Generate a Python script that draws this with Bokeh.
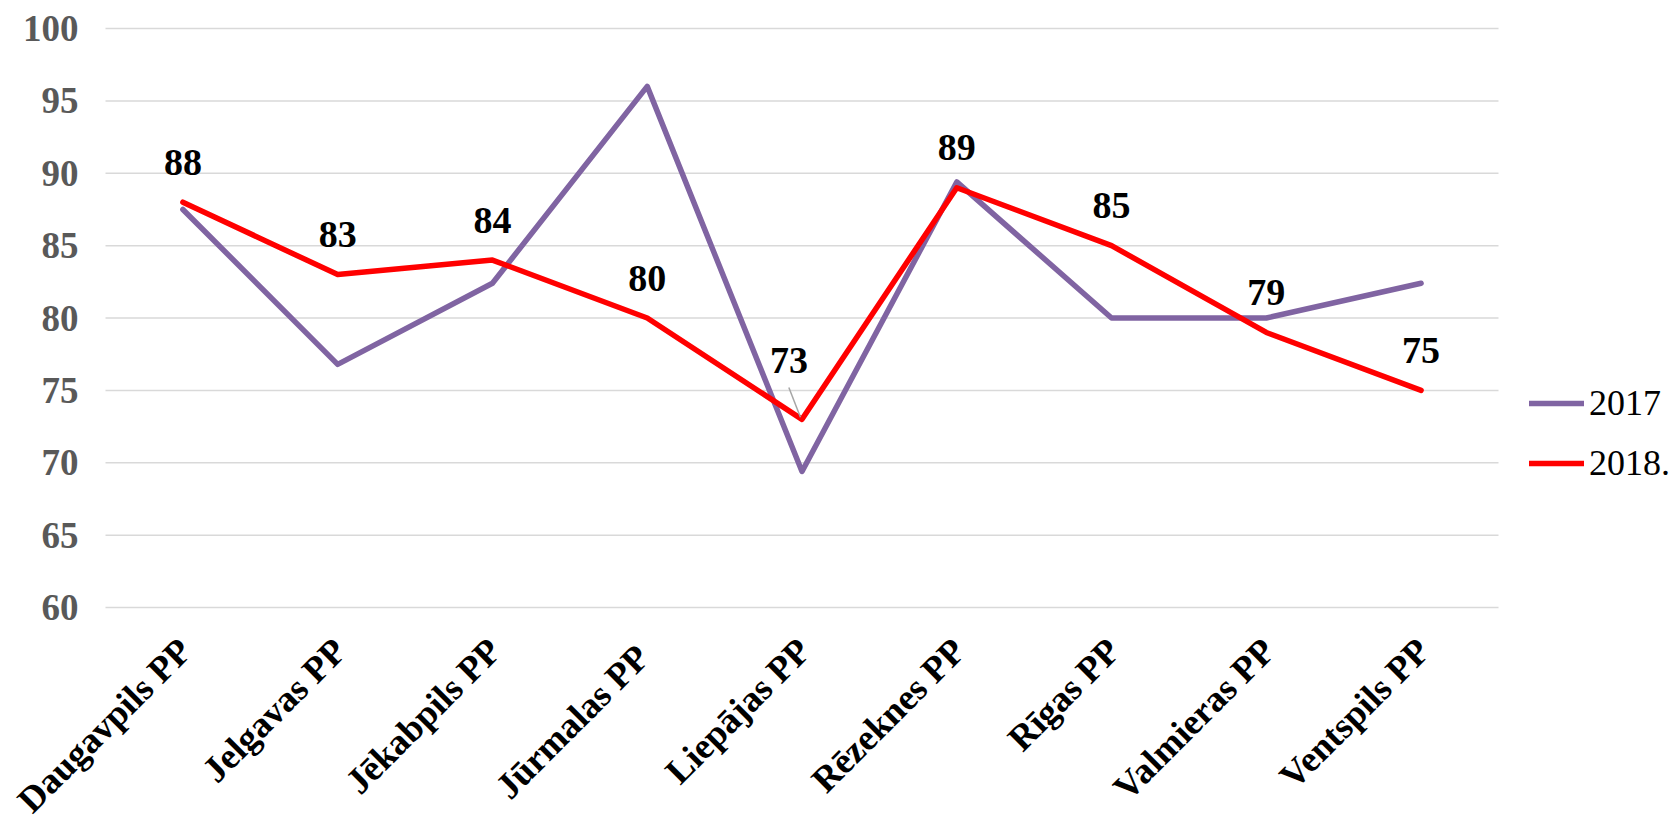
import math
from bokeh.plotting import figure
from bokeh.models import (ColumnDataSource, Range1d, Legend, LegendItem, LabelSet)
from bokeh.embed import file_html
from bokeh.resources import INLINE

categories = ["Daugavpils PP", "Jelgavas PP", "Jēkabpils PP", "Jūrmalas  PP", "Liepājas PP",
              "Rēzeknes PP", "Rīgas PP", "Valmieras PP", "Ventspils PP"]
values_2017 = [87.5, 76.8, 82.4, 96.0, 69.4, 89.4, 80.0, 80.0, 82.4]
values_2018 = [88, 83, 84, 80, 73, 89, 85, 79, 75]
series_names = ["2017", "2018."]
y_ticks = [60, 65, 70, 75, 80, 85, 90, 95, 100]
y_min, y_max = 60, 100

FONT = "Liberation Serif"
PURPLE = "#8064a2"
RED = "#ff0000"

# page / plot-area geometry (pixels)
W, H = 1674, 815
LEFT, TOP = 105, 28          # top-left corner of the 60..100 plotting band
PLOT_W, PLOT_H = 1393, 579

n = len(categories)
xs = list(range(n))           # category slots
pxu_x = PLOT_W / n
pxu_y = PLOT_H / (y_max - y_min)
x_start = -0.5 - LEFT / pxu_x
x_end = x_start + W / pxu_x
y_end = y_max + TOP / pxu_y
y_start = y_end - H / pxu_y

p = figure(x_range=Range1d(x_start, x_end), y_range=Range1d(y_start, y_end),
           frame_width=W, frame_height=H, output_backend="svg", toolbar_location=None,
           min_border=0)
p.outline_line_color = None
p.background_fill_color = "white"
p.border_fill_color = "white"
p.xaxis.visible = False
p.yaxis.visible = False
p.grid.visible = False

# horizontal gridlines across the category band
p.segment(x0=[-0.5] * len(y_ticks), x1=[n - 0.5] * len(y_ticks), y0=y_ticks, y1=y_ticks,
          line_color="#d9d9d9", line_width=1.5)

# y tick labels
ytl_src = ColumnDataSource(dict(x=[-0.5] * len(y_ticks), y=y_ticks, t=[str(v) for v in y_ticks]))
p.add_layout(LabelSet(x="x", y="y", text="t", source=ytl_src, x_offset=-27,
                      text_font=FONT, text_font_style="bold", text_font_size="37px",
                      text_color="#595959", text_align="right", text_baseline="middle"))

# lines
r17 = p.line(xs, values_2017, line_color=PURPLE, line_width=5.5, line_cap="round", line_join="round")
r18 = p.line(xs, values_2018, line_color=RED, line_width=5.5, line_cap="round", line_join="round")

# data labels for 2018
x_offs = [0 if c != "Liepājas PP" else -13 for c in categories]
y_offs = [40 if c != "Liepājas PP" else 59 for c in categories]
lab_src = ColumnDataSource(dict(x=xs, y=values_2018, t=[str(v) for v in values_2018],
                                xo=x_offs, yo=y_offs))
p.add_layout(LabelSet(x="x", y="y", text="t", source=lab_src, x_offset="xo", y_offset="yo",
                      text_font=FONT, text_font_style="bold", text_font_size="38px",
                      text_color="black", text_align="center", text_baseline="middle"))

# leader line for Liepājas label
li = categories.index("Liepājas PP")
p.segment(x0=[xs[li] - 0.01], y0=[values_2018[li] + 0.15],
          x1=[xs[li] - 0.085], y1=[values_2018[li] + 2.2],
          line_color="#a6a6a6", line_width=1.5)

# rotated category labels under the 60 line
cat_src = ColumnDataSource(dict(x=xs, y=[y_min] * n, t=categories))
p.add_layout(LabelSet(x="x", y="y", text="t", source=cat_src, x_offset=2, y_offset=-37,
                      angle=math.pi / 4, text_font=FONT, text_font_style="bold",
                      text_font_size="36.5px", text_color="black",
                      text_align="right", text_baseline="middle"))

legend = Legend(items=[LegendItem(label=series_names[0], renderers=[r17]),
                       LegendItem(label=series_names[1], renderers=[r18])],
                location=(LEFT + PLOT_W + 31, 331), orientation="vertical",
                label_text_font=FONT, label_text_font_size="36px", label_text_color="black",
                glyph_width=55, glyph_height=30, label_standoff=5, spacing=18,
                padding=0, margin=0, border_line_color=None, background_fill_alpha=0)
p.add_layout(legend)

open("out.html", "w").write(file_html(p, INLINE))
